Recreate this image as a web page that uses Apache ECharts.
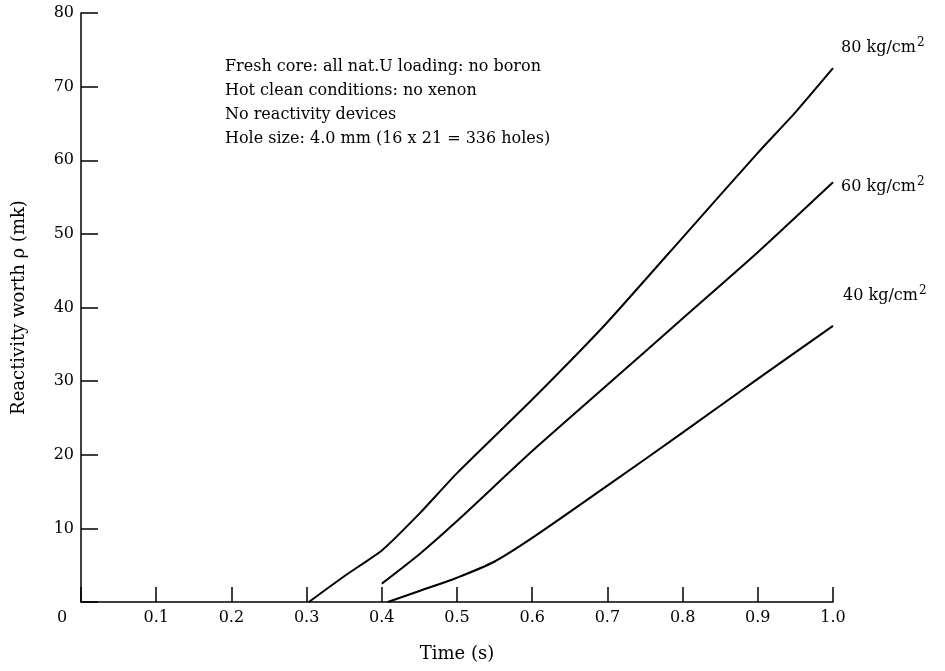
<!DOCTYPE html>
<html>
<head>
<meta charset="utf-8">
<script src="https://cdn.jsdelivr.net/npm/echarts@6/dist/echarts.min.js"></script>
<style>
  html, body { margin: 0; padding: 0; background: #fff; }
  #chart { width: 945px; height: 671px; }
</style>
</head>
<body>
<div id="chart"></div>
<script>
// curve readings (time s, reactivity mk)
var x80 = [0.303, 0.35, 0.4, 0.45, 0.5, 0.6, 0.7, 0.8, 0.9, 0.95, 1.0]
var y80 = [0, 3.5, 7, 12, 17.5, 27.5, 38, 49.5, 61, 66.5, 72.5]
var x60 = [0.4, 0.45, 0.5, 0.6, 0.7, 0.8, 0.9, 1.0]
var y60 = [2.5, 6.5, 11, 20.5, 29.5, 38.5, 47.5, 57]
var x40 = [0.408, 0.45, 0.5, 0.55, 0.6, 0.7, 0.8, 0.9, 1.0]
var y40 = [0, 1.5, 3.3, 5.5, 8.7, 15.8, 23, 30.3, 37.5]
var curveNames = ['80', '60', '40']
var notes = [
  'Fresh core: all nat.U loading: no boron',
  'Hot clean conditions: no xenon',
  'No reactivity devices',
  'Hole size: 4.0 mm (16 x 21 = 336 holes)'
]

var FONT = 'DejaVu Serif'

function pairs (xs, ys) {
  return xs.map(function (x, i) { return [x, ys[i]] })
}

function curve (name, xs, ys, offset, smooth) {
  return {
    name: name,
    type: 'line',
    data: pairs(xs, ys),
    smooth: smooth,
    showSymbol: false,
    lineStyle: { color: '#000', width: 2 },
    endLabel: {
      show: true,
      offset: offset,
      formatter: '{a|' + name + ' kg/cm}{s|2}',
      rich: {
        a: { fontFamily: FONT, fontSize: 16, color: '#000' },
        s: { fontFamily: FONT, fontSize: 12, color: '#000', verticalAlign: 'bottom', padding: [0, 0, 11, 1] }
      }
    },
    emphasis: { disabled: true }
  }
}

var chart = echarts.init(document.getElementById('chart'))
chart.setOption({
  animation: false,
  backgroundColor: '#fff',
  title: {
    text: notes.join('\n'),
    left: 220,
    top: 50,
    textStyle: { fontFamily: FONT, fontSize: 16, fontWeight: 'normal', color: '#000', lineHeight: 24 }
  },
  grid: { left: 81, right: 112, top: 13, bottom: 69 },
  xAxis: {
    type: 'value',
    min: 0,
    max: 1,
    interval: 0.1,
    name: 'Time (s)',
    nameLocation: 'middle',
    nameGap: 43,
    nameTextStyle: { fontFamily: FONT, fontSize: 18, color: '#000' },
    axisLine: { lineStyle: { color: '#000', width: 1.5 } },
    axisTick: { inside: true, length: 15, lineStyle: { color: '#000', width: 1.5 } },
    splitLine: { show: false },
    axisLabel: {
      margin: 8,
      color: '#000',
      fontFamily: FONT,
      fontSize: 16,
      formatter: function (v) { return v === 0 ? '{o|0}' : '{n|' + v.toFixed(1) + '}' },
      rich: {
        o: { fontFamily: FONT, fontSize: 16, color: '#000', padding: [0, 38, 0, 0] },
        n: { fontFamily: FONT, fontSize: 16, color: '#000' }
      }
    }
  },
  yAxis: {
    type: 'value',
    min: 0,
    max: 80,
    interval: 10,
    name: 'Reactivity worth \u03c1 (mk)',
    nameLocation: 'middle',
    nameGap: 53,
    nameTextStyle: { fontFamily: FONT, fontSize: 18, color: '#000' },
    axisLine: { show: true, lineStyle: { color: '#000', width: 1.5 } },
    axisTick: { show: true, inside: true, length: 17, lineStyle: { color: '#000', width: 1.5 } },
    splitLine: { show: false },
    axisLabel: {
      margin: 7,
      color: '#000',
      fontFamily: FONT,
      fontSize: 16,
      formatter: function (v) { return v === 0 ? '' : v }
    }
  },
  series: [
    curve(curveNames[0], x80, y80, [0, -20], 0.15),
    curve(curveNames[1], x60, y60, [0, 5], 0.2),
    curve(curveNames[2], x40, y40, [2, -30], 0.3)
  ]
})
</script>
</body>
</html>
